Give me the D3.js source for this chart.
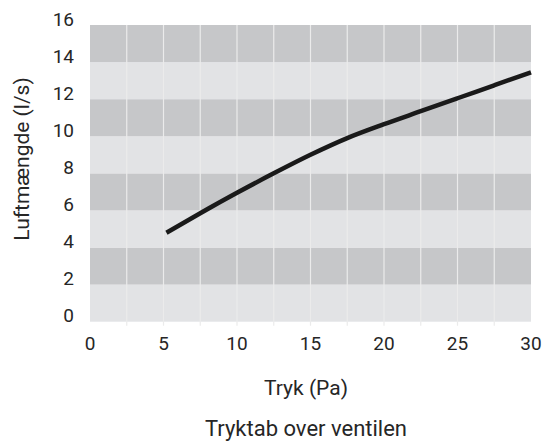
<!DOCTYPE html>
<html lang="da">
<head>
<meta charset="utf-8">
<title>Tryktab over ventilen</title>
<script src="https://cdnjs.cloudflare.com/ajax/libs/d3/7.8.5/d3.min.js"></script>
<style>
	body { margin: 0; background: #fff; }
	text { font-family: Roboto, "DejaVu Sans", sans-serif; fill: #262626; }
</style>
</head>
<body>
<script>

// data
var pressure = [5.2, 7.5, 10, 12.5, 15, 17.5, 20, 22.5, 25, 27.5, 30];
var flow = [4.8, 5.85, 6.95, 8.0, 9.0, 9.9, 10.65, 11.35, 12.05, 12.75, 13.45];
var xTicks = [0, 5, 10, 15, 20, 25, 30];
var yTicks = [0, 2, 4, 6, 8, 10, 12, 14, 16];
var gridX = [2.5, 5, 7.5, 10, 12.5, 15, 17.5, 20, 22.5, 25, 27.5];

var W = 543, H = 441;
// note: "top" is taken by window.top, so prefix these
var plotLeft = 90, plotRight = 531, plotTop = 25, plotBottom = 321.7;

var svg = d3.select("body").append("svg")
	.attr("width", W)
	.attr("height", H);

var x = d3.scaleLinear().domain([0, 30]).range([plotLeft, plotRight]);
var y = d3.scaleLinear().domain([0, 16]).range([plotBottom, plotTop]);

// horizontal bands, 2 units each
var bands = d3.range(0, 16, 2);
svg.selectAll("rect.band")
	.data(bands)
	.enter()
	.append("rect")
	.attr("class", "band")
	.attr("x", x(0))
	.attr("width", x(30) - x(0))
	.attr("y", function(d){ return y(d + 2); })
	.attr("height", function(d){ return y(d) - y(d + 2); })
	.attr("fill", function(d){
		return (d / 2) % 2 === 1 ? "#c6c7c9" : "#e2e3e5";
	});

// vertical grid lines, poking a little under the plot
svg.selectAll("line.grid")
	.data(gridX)
	.enter()
	.append("line")
	.attr("class", "grid")
	.attr("x1", function(d){ return x(d); })
	.attr("x2", function(d){ return x(d); })
	.attr("y1", plotTop)
	.attr("y2", plotBottom + 4)
	.attr("stroke", "#ebebeb")
	.attr("stroke-width", 1.2);

// y tick labels
svg.selectAll("text.ylab")
	.data(yTicks)
	.enter()
	.append("text")
	.attr("class", "ylab")
	.attr("x", 74)
	.attr("y", function(d){ return y(d) - 6; })
	.attr("dy", "0.35em")
	.attr("text-anchor", "end")
	.style("font-size", "19px")
	.text(function(d){ return d; });

// x tick labels
svg.selectAll("text.xlab")
	.data(xTicks)
	.enter()
	.append("text")
	.attr("class", "xlab")
	.attr("x", function(d){ return x(d); })
	.attr("y", 343)
	.attr("dy", "0.35em")
	.attr("text-anchor", "middle")
	.style("font-size", "19px")
	.text(function(d){ return d; });

// the curve
var pts = pressure.map(function(p, i){ return [p, flow[i]]; });
var line = d3.line()
	.x(function(d){ return x(d[0]); })
	.y(function(d){ return y(d[1]); })
	.curve(d3.curveMonotoneX);

svg.append("path")
	.datum(pts)
	.attr("d", line)
	.attr("fill", "none")
	.attr("stroke", "#1a1a1a")
	.attr("stroke-width", 4.5);

// axis titles
svg.append("text")
	.attr("transform", "translate(29,159) rotate(-90)")
	.attr("text-anchor", "middle")
	.style("font-size", "21px")
	.text("Luftmængde (l/s)");

svg.append("text")
	.attr("x", 306)
	.attr("y", 388)
	.attr("dy", "0.35em")
	.attr("text-anchor", "middle")
	.style("font-size", "21px")
	.text("Tryk (Pa)");

svg.append("text")
	.attr("x", 306)
	.attr("y", 428)
	.attr("dy", "0.35em")
	.attr("text-anchor", "middle")
	.style("font-size", "22px")
	.text("Tryktab over ventilen");

</script>
</body>
</html>
